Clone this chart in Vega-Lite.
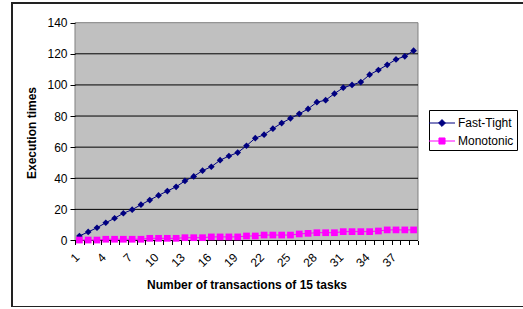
{
  "$schema": "https://vega.github.io/schema/vega-lite/v6.json",
  "width": 515,
  "height": 304,
  "autosize": {"type": "none"},
  "padding": {"left": 12, "top": 3, "right": 0, "bottom": 0},
  "background": "white",
  "config": {
    "view": {"stroke": "#222222", "strokeWidth": 2, "fill": "white"},
    "font": "Liberation Sans",
    "axis": {"labelOverlap": false, "labelFlush": false}
  },
  "datasets": {
    "series": [
      {"n": 1, "series": "Fast-Tight", "v": 2.9},
      {"n": 2, "series": "Fast-Tight", "v": 5.5},
      {"n": 3, "series": "Fast-Tight", "v": 8.2},
      {"n": 4, "series": "Fast-Tight", "v": 11.4},
      {"n": 5, "series": "Fast-Tight", "v": 14.3},
      {"n": 6, "series": "Fast-Tight", "v": 17.5},
      {"n": 7, "series": "Fast-Tight", "v": 19.8},
      {"n": 8, "series": "Fast-Tight", "v": 23.0},
      {"n": 9, "series": "Fast-Tight", "v": 26.0},
      {"n": 10, "series": "Fast-Tight", "v": 29.0},
      {"n": 11, "series": "Fast-Tight", "v": 31.8},
      {"n": 12, "series": "Fast-Tight", "v": 34.5},
      {"n": 13, "series": "Fast-Tight", "v": 38.3},
      {"n": 14, "series": "Fast-Tight", "v": 41.2},
      {"n": 15, "series": "Fast-Tight", "v": 44.9},
      {"n": 16, "series": "Fast-Tight", "v": 47.4},
      {"n": 17, "series": "Fast-Tight", "v": 51.6},
      {"n": 18, "series": "Fast-Tight", "v": 54.3},
      {"n": 19, "series": "Fast-Tight", "v": 56.5},
      {"n": 20, "series": "Fast-Tight", "v": 60.9},
      {"n": 21, "series": "Fast-Tight", "v": 65.8},
      {"n": 22, "series": "Fast-Tight", "v": 68.0},
      {"n": 23, "series": "Fast-Tight", "v": 71.9},
      {"n": 24, "series": "Fast-Tight", "v": 75.5},
      {"n": 25, "series": "Fast-Tight", "v": 78.5},
      {"n": 26, "series": "Fast-Tight", "v": 81.4},
      {"n": 27, "series": "Fast-Tight", "v": 84.6},
      {"n": 28, "series": "Fast-Tight", "v": 88.9},
      {"n": 29, "series": "Fast-Tight", "v": 90.2},
      {"n": 30, "series": "Fast-Tight", "v": 94.4},
      {"n": 31, "series": "Fast-Tight", "v": 98.2},
      {"n": 32, "series": "Fast-Tight", "v": 100.0},
      {"n": 33, "series": "Fast-Tight", "v": 101.8},
      {"n": 34, "series": "Fast-Tight", "v": 106.6},
      {"n": 35, "series": "Fast-Tight", "v": 109.6},
      {"n": 36, "series": "Fast-Tight", "v": 112.9},
      {"n": 37, "series": "Fast-Tight", "v": 116.4},
      {"n": 38, "series": "Fast-Tight", "v": 118.4},
      {"n": 39, "series": "Fast-Tight", "v": 122.0},
      {"n": 1, "series": "Monotonic", "v": 0.3},
      {"n": 2, "series": "Monotonic", "v": 0.3},
      {"n": 3, "series": "Monotonic", "v": 0.3},
      {"n": 4, "series": "Monotonic", "v": 0.8},
      {"n": 5, "series": "Monotonic", "v": 0.8},
      {"n": 6, "series": "Monotonic", "v": 0.8},
      {"n": 7, "series": "Monotonic", "v": 0.8},
      {"n": 8, "series": "Monotonic", "v": 0.8},
      {"n": 9, "series": "Monotonic", "v": 1.4},
      {"n": 10, "series": "Monotonic", "v": 1.4},
      {"n": 11, "series": "Monotonic", "v": 1.4},
      {"n": 12, "series": "Monotonic", "v": 1.4},
      {"n": 13, "series": "Monotonic", "v": 1.8},
      {"n": 14, "series": "Monotonic", "v": 1.8},
      {"n": 15, "series": "Monotonic", "v": 1.8},
      {"n": 16, "series": "Monotonic", "v": 2.3},
      {"n": 17, "series": "Monotonic", "v": 2.3},
      {"n": 18, "series": "Monotonic", "v": 2.3},
      {"n": 19, "series": "Monotonic", "v": 2.3},
      {"n": 20, "series": "Monotonic", "v": 2.9},
      {"n": 21, "series": "Monotonic", "v": 2.9},
      {"n": 22, "series": "Monotonic", "v": 3.5},
      {"n": 23, "series": "Monotonic", "v": 3.5},
      {"n": 24, "series": "Monotonic", "v": 3.5},
      {"n": 25, "series": "Monotonic", "v": 3.5},
      {"n": 26, "series": "Monotonic", "v": 4.2},
      {"n": 27, "series": "Monotonic", "v": 4.6},
      {"n": 28, "series": "Monotonic", "v": 5.0},
      {"n": 29, "series": "Monotonic", "v": 5.0},
      {"n": 30, "series": "Monotonic", "v": 5.0},
      {"n": 31, "series": "Monotonic", "v": 5.7},
      {"n": 32, "series": "Monotonic", "v": 5.7},
      {"n": 33, "series": "Monotonic", "v": 5.7},
      {"n": 34, "series": "Monotonic", "v": 5.7},
      {"n": 35, "series": "Monotonic", "v": 6.1},
      {"n": 36, "series": "Monotonic", "v": 6.8},
      {"n": 37, "series": "Monotonic", "v": 6.8},
      {"n": 38, "series": "Monotonic", "v": 6.8},
      {"n": 39, "series": "Monotonic", "v": 6.8}
    ],
    "grid": [
      {"g": 0}, {"g": 20}, {"g": 40}, {"g": 60}, {"g": 80}, {"g": 100}, {"g": 120}
    ]
  },
  "resolve": {"axis": {"x": "independent"}},
  "layer": [
    {
      "data": {"values": [{}]},
      "mark": {"type": "rect", "fill": "#C0C0C0", "stroke": "#808080", "strokeWidth": 1},
      "encoding": {
        "x": {
          "datum": 0.5,
          "type": "quantitative",
          "title": "Number of transactions of 15 tasks",
          "scale": {"domain": [-6.663, 51.894], "nice": false, "zero": false},
          "axis": {
            "orient": "bottom",
            "title": "Number of transactions of 15 tasks",
            "values": [1, 4, 7, 10, 13, 16, 19, 22, 25, 28, 31, 34, 37],
            "offset": -66.5,
            "domain": false,
            "grid": false,
            "ticks": false,
            "labelAngle": -45,
            "labelFontSize": 12,
            "labelColor": "#000000",
            "labelPadding": 11,
            "labelOffset": -6,
            "labelOverlap": false,
            "labelFlush": false,
            "labelBound": false,
            "titleFontSize": 12,
            "titleFontWeight": "bold",
            "titleColor": "#000000",
            "titleX": 234.5,
            "titleY": 38.5,
            "titleBaseline": "top",
            "titleAnchor": "middle",
            "titleAlign": "center",
            "zindex": 1
          }
        },
        "x2": {"datum": 39.5},
        "y": {
          "datum": 0,
          "type": "quantitative",
          "title": "Execution times",
          "scale": {"domain": [-42.75, 152.66], "nice": false, "zero": false},
          "axis": {
            "values": [0, 20, 40, 60, 80, 100, 120, 140],
            "offset": -63,
            "domain": false,
            "grid": false,
            "tickSize": 5,
            "tickColor": "#000000",
            "labelFontSize": 12,
            "labelColor": "#000000",
            "labelPadding": 3,
            "titleFontSize": 12,
            "titleFontWeight": "bold",
            "titleColor": "#000000",
            "titleY": 129.5,
            "titlePadding": 8,
            "zindex": 1
          }
        },
        "y2": {"datum": 140}
      }
    },
    {
      "data": {"name": "grid"},
      "mark": {"type": "rule", "color": "#000000", "strokeWidth": 1},
      "encoding": {
        "y": {"field": "g", "type": "quantitative", "title": "Execution times"},
        "x": {
          "datum": 0.5,
          "type": "quantitative",
          "axis": {
            "orient": "bottom",
            "values": [0.5, 1.5, 2.5, 3.5, 4.5, 5.5, 6.5, 7.5, 8.5, 9.5, 10.5, 11.5, 12.5, 13.5, 14.5, 15.5, 16.5, 17.5, 18.5, 19.5, 20.5, 21.5, 22.5, 23.5, 24.5, 25.5, 26.5, 27.5, 28.5, 29.5, 30.5, 31.5, 32.5, 33.5, 34.5, 35.5, 36.5, 37.5, 38.5, 39.5],
            "offset": -66.5,
            "domain": false,
            "grid": false,
            "ticks": true,
            "tickSize": 4,
            "tickColor": "#000000",
            "labels": false,
            "title": null,
            "zindex": 1
          }
        },
        "x2": {"datum": 39.5}
      }
    },
    {
      "data": {"name": "series"},
      "mark": {"type": "line", "strokeWidth": 1},
      "encoding": {
        "x": {"field": "n", "type": "quantitative", "axis": null},
        "y": {"field": "v", "type": "quantitative", "title": "Execution times"},
        "color": {
          "field": "series",
          "type": "nominal",
          "scale": {"domain": ["Fast-Tight", "Monotonic"], "range": ["#000080", "#FF00FF"]},
          "legend": {
            "orient": "none",
            "legendX": 417,
            "legendY": 107,
            "title": null,
            "strokeColor": "#000000",
            "fillColor": "#FFFFFF",
            "padding": 3,
            "rowPadding": 2,
            "labelFontSize": 12,
            "labelColor": "#000000",
            "labelOffset": 6,
            "symbolSize": 361,
            "symbolType": "M-1.37,0L1.37,0",
            "encode": {
              "symbols": {
                "update": {
                  "shape": {"signal": "datum.value == 'Fast-Tight' ? 'M-1.37,0L1.37,0M0,-0.36L0.36,0L0,0.36L-0.36,0Z' : 'M-1.37,0L1.37,0M-0.32,-0.32L0.32,-0.32L0.32,0.32L-0.32,0.32Z'"},
                  "fill": {"signal": "datum.value == 'Fast-Tight' ? '#000080' : '#FF00FF'"},
                  "stroke": {"signal": "datum.value == 'Fast-Tight' ? '#000080' : '#FF00FF'"},
                  "strokeWidth": {"value": 1},
                  "opacity": {"value": 1},
                  "fillOpacity": {"value": 1}
                }
              }
            }
          }
        }
      }
    },
    {
      "data": {"name": "series"},
      "transform": [{"filter": "datum.series == 'Fast-Tight'"}],
      "mark": {"type": "point", "filled": true, "size": 45, "opacity": 1, "shape": "diamond"},
      "encoding": {
        "x": {"field": "n", "type": "quantitative", "axis": null},
        "y": {"field": "v", "type": "quantitative", "title": "Execution times"},
        "color": {"field": "series", "type": "nominal"}
      }
    },
    {
      "data": {"name": "series"},
      "transform": [{"filter": "datum.series == 'Monotonic'"}],
      "mark": {"type": "point", "filled": true, "size": 45, "opacity": 1, "shape": "square"},
      "encoding": {
        "x": {"field": "n", "type": "quantitative", "axis": null},
        "y": {"field": "v", "type": "quantitative", "title": "Execution times"},
        "color": {"field": "series", "type": "nominal"}
      }
    }
  ]
}
